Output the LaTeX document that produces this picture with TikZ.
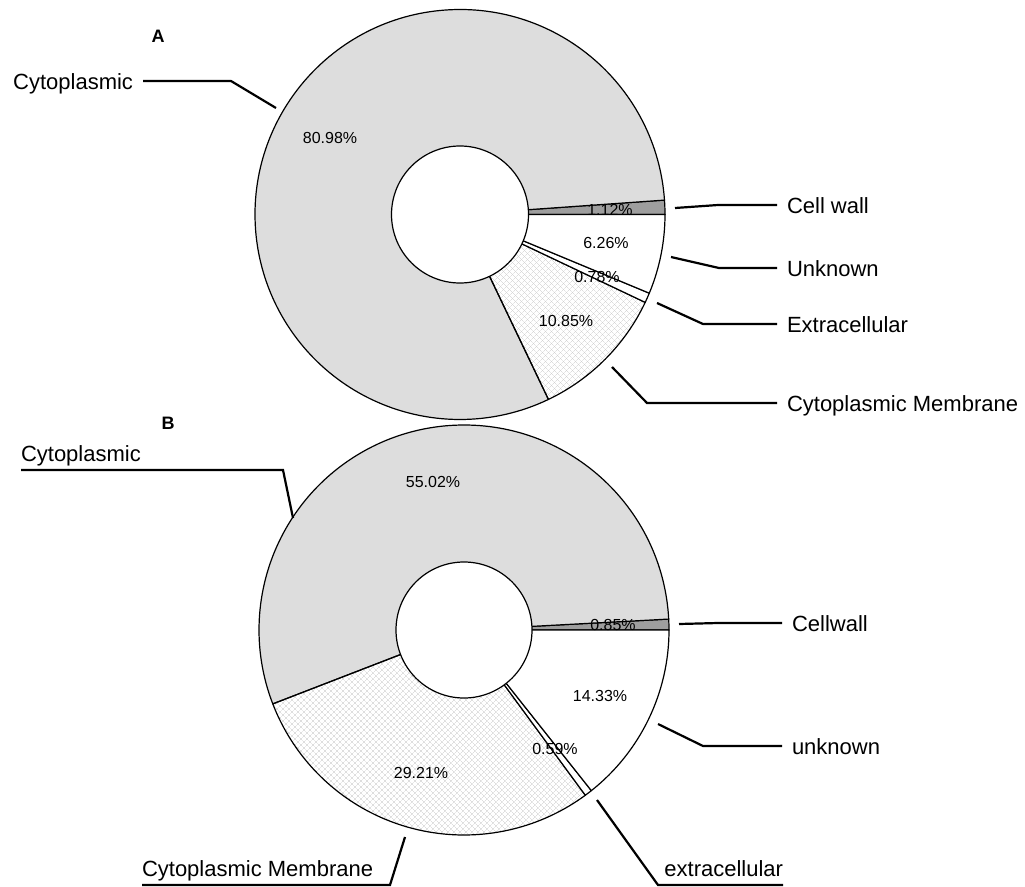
\documentclass[tikz,border=0pt]{standalone}
\usepackage{fontspec}
\setmainfont{Liberation Sans}
\usetikzlibrary{patterns.meta}
\definecolor{cytofill}{RGB}{221,221,221}
\definecolor{wallfill}{RGB}{158,158,158}

\begin{document}
\begin{tikzpicture}[
    x=1pt,
    y=1pt,
    slice/.style={draw=black, line width=1.2pt, line join=round},
    cyto/.style={slice, fill=cytofill},
    wall/.style={slice, fill=wallfill},
    memb/.style={slice,
      preaction={pattern={Lines[angle=45,distance=4pt,line width=0.35pt]}, pattern color=black!20},
      pattern={Lines[angle=-45,distance=4pt,line width=0.35pt]}, pattern color=black!20},
    plain/.style={slice, fill=white},
    pct/.style={font=\fontsize{16}{18}\selectfont, inner sep=0pt},
    panel/.style={font=\bfseries\fontsize{18}{20}\selectfont, inner sep=0pt},
    lbl/.style={font=\fontsize{22}{26}\selectfont, text height=16pt, text depth=0pt,
      inner xsep=10pt, inner ysep=0pt, outer sep=0pt},
    ulbl/.style={lbl, inner xsep=0pt, inner ysep=9pt},
    callout/.style={line width=2.2pt}]

    \useasboundingbox (0,0) rectangle (1025,-886);

    % Centres
    \coordinate (cA) at (460,-214.5);
    \coordinate (cB) at (464,-630);

    % Chart A
    \foreach \a/\b/\s in {0/4.03/wall, 4.03/295.56/cyto, 295.56/334.62/memb,
                          334.62/337.43/plain, 337.43/360/plain} {
      \filldraw[\s] (cA) -- ++(\a:205) arc[start angle=\a, end angle=\b, radius=205] -- cycle;
    }
    \filldraw[slice, fill=white] (cA) circle[radius=68.5];

    % Chart B
    \foreach \a/\b/\s in {0/3.06/wall, 3.06/201.13/cyto, 201.13/306.29/memb,
                          306.29/308.41/plain, 308.41/360/plain} {
      \filldraw[\s] (cB) -- ++(\a:205) arc[start angle=\a, end angle=\b, radius=205] -- cycle;
    }
    \filldraw[slice, fill=white] (cB) circle[radius=68];

    % Percentages
    \node[pct] (pA1) at (330,-138) {80.98\%};
    \node[pct] (pA2) at (610,-210) {1.12\%};
    \node[pct] (pA3) at (606,-243) {6.26\%};
    \node[pct] (pA4) at (597,-277) {0.78\%};
    \node[pct] (pA5) at (566,-321) {10.85\%};

    \node[pct] (pB1) at (433,-482) {55.02\%};
    \node[pct] (pB2) at (613,-625) {0.85\%};
    \node[pct] (pB3) at (600,-696) {14.33\%};
    \node[pct] (pB4) at (555,-749) {0.59\%};
    \node[pct] (pB5) at (421,-773) {29.21\%};

    % Panel letters
    \node[panel] (A) at (158,-36) {A};
    \node[panel] (B) at (168,-423) {B};

    % Labels A
    \node[lbl, anchor=east] (cytA) at (143,-81) {Cytoplasmic};
    \node[lbl, anchor=west] (wallA) at (777,-205) {Cell wall};
    \node[lbl, anchor=west] (unkA) at (777,-268) {Unknown};
    \node[lbl, anchor=west] (extA) at (777,-324) {Extracellular};
    \node[lbl, anchor=west] (memA) at (777,-403) {Cytoplasmic Membrane};

    % Labels B
    \node[ulbl, anchor=south west] (cytB) at (21,-470) {Cytoplasmic};
    \node[lbl, anchor=west] (wallB) at (782,-623) {Cellwall};
    \node[lbl, anchor=west] (unkB) at (782,-746) {unknown};
    \node[ulbl, anchor=south east] (extB) at (783,-885) {extracellular};
    \node[ulbl, anchor=south west] (memB) at (142,-885) {Cytoplasmic Membrane};

    % Callout points
    \coordinate (cytAp) at (276,-108);   \coordinate (cytAk) at (231,-81);
    \coordinate (wallAp) at (675,-208);  \coordinate (wallAk) at (718,-205);
    \coordinate (unkAp) at (671,-257);   \coordinate (unkAk) at (719,-268);
    \coordinate (extAp) at (657,-303);   \coordinate (extAk) at (703,-324);
    \coordinate (memAp) at (612,-367);   \coordinate (memAk) at (647,-403);

    \coordinate (cytBp) at (293,-518);   \coordinate (cytBk) at (283,-470);
    \coordinate (wallBp) at (679,-624);  \coordinate (wallBk) at (718,-623);
    \coordinate (unkBp) at (658,-724);   \coordinate (unkBk) at (703,-746);
    \coordinate (extBp) at (597,-800);   \coordinate (extBk) at (658,-885);
    \coordinate (memBp) at (405,-837);   \coordinate (memBk) at (390,-885);

    % Callouts
    \draw[callout] (cytAp) -- (cytAk) -- (cytA.east);
    \draw[callout] (wallAp) -- (wallAk) -- (wallA.west);
    \draw[callout] (unkAp) -- (unkAk) -- (unkA.west);
    \draw[callout] (extAp) -- (extAk) -- (extA.west);
    \draw[callout] (memAp) -- (memAk) -- (memA.west);

    \draw[callout] (cytBp) -- (cytBk) -- (cytB.south west);
    \draw[callout] (wallBp) -- (wallBk) -- (wallB.west);
    \draw[callout] (unkBp) -- (unkBk) -- (unkB.west);
    \draw[callout] (extBp) -- (extBk) -- (extB.south east);
    \draw[callout] (memBp) -- (memBk) -- (memB.south west);
  \end{tikzpicture}
\end{document}
